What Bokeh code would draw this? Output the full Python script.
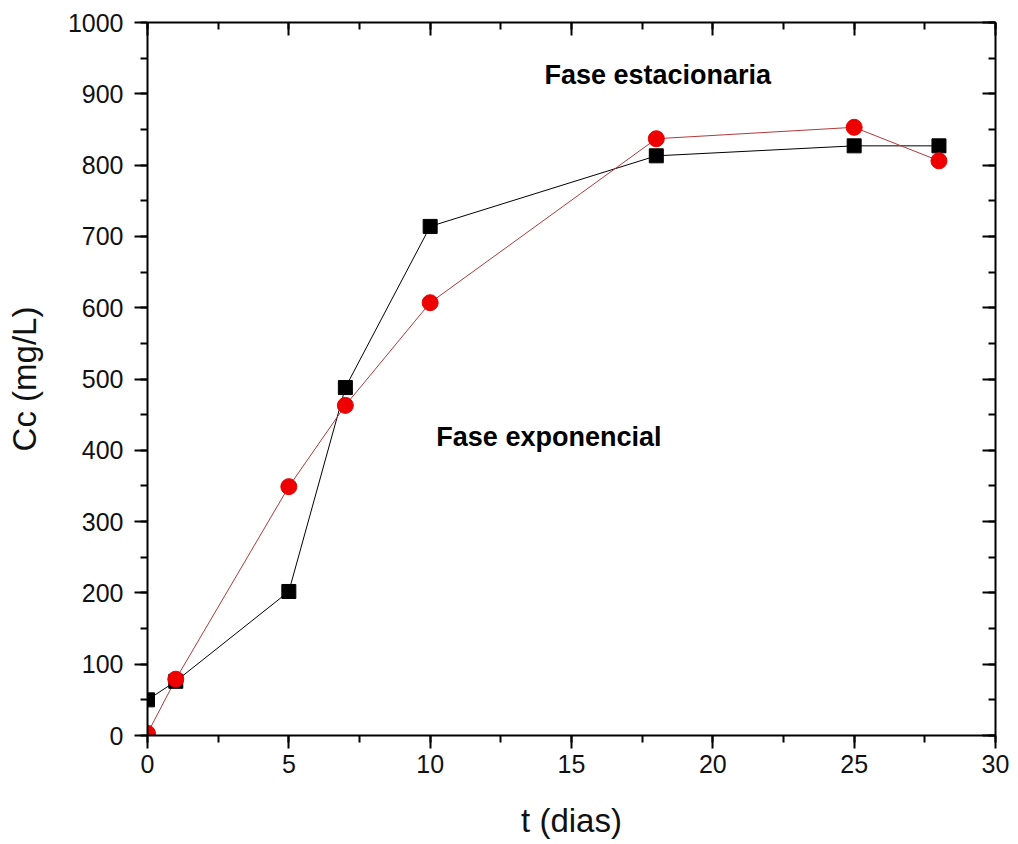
from bokeh.plotting import figure
from bokeh.models import LinearAxis, Range1d, FixedTicker, Label
from bokeh.embed import file_html
from bokeh.resources import INLINE

t_black = [0, 1, 5, 7, 10, 18, 25, 28]
cc_black = [50, 76, 202, 488, 714, 813, 827, 827]
t_red = [0, 1, 5, 7, 10, 18, 25, 28]
cc_red = [3, 79, 349, 463, 607, 837, 853, 806]
x_ticks = [0, 5, 10, 15, 20, 25, 30]
y_ticks = list(range(0, 1001, 100))

FONT = "Liberation Sans"

p = figure(width=1018, height=844, output_backend="svg", toolbar_location=None,
           x_range=Range1d(0, 30), y_range=Range1d(0, 1000),
           min_border_left=147, min_border_right=23, min_border_top=22, min_border_bottom=109,
           x_axis_label="t (dias)", y_axis_label="Cc (mg/L)")
p.grid.visible = False
p.outline_line_color = None
p.background_fill_color = "white"
p.border_fill_color = "white"

for ax in [p.xaxis[0], p.yaxis[0]]:
    ax.axis_line_width = 2
    ax.major_tick_line_width = 2
    ax.minor_tick_line_width = 2
    ax.major_tick_out = 13
    ax.major_tick_in = 0
    ax.minor_tick_out = 7
    ax.minor_tick_in = 0
    ax.major_label_text_font = FONT
    ax.major_label_text_font_size = "25px"
    ax.major_label_text_color = "#111111"
    ax.axis_label_text_font = FONT
    ax.axis_label_text_font_size = "33px"
    ax.axis_label_text_font_style = "normal"
    ax.axis_label_text_color = "#111111"
    ax.axis_line_color = "black"
    ax.major_tick_line_color = "black"
    ax.minor_tick_line_color = "black"

p.xaxis[0].ticker = FixedTicker(ticks=x_ticks, minor_ticks=[v * 2.5 for v in range(13)])
p.yaxis[0].ticker = FixedTicker(ticks=y_ticks, minor_ticks=list(range(0, 1001, 50)))
p.xaxis[0].major_label_standoff = 6
p.xaxis[0].axis_label_standoff = 26
p.yaxis[0].major_label_standoff = 11
p.yaxis[0].axis_label_standoff = 22

top = LinearAxis(ticker=FixedTicker(ticks=x_ticks, minor_ticks=[v * 2.5 for v in range(13)]))
right = LinearAxis(ticker=FixedTicker(ticks=y_ticks, minor_ticks=list(range(0, 1001, 50))))
top.major_label_overrides = {t: "" for t in x_ticks}
right.major_label_overrides = {t: "" for t in y_ticks}
for ax in [top, right]:
    ax.axis_line_width = 2
    ax.major_tick_line_width = 2
    ax.minor_tick_line_width = 2
    ax.major_tick_in = 13
    ax.major_tick_out = 0
    ax.minor_tick_in = 7
    ax.minor_tick_out = 0
    ax.major_label_standoff = 0
    ax.axis_line_color = "black"
    ax.major_tick_line_color = "black"
    ax.minor_tick_line_color = "black"
p.add_layout(top, "above")
p.add_layout(right, "right")

p.line(t_black, cc_black, line_color="black", line_width=1)
p.line(t_red, cc_red, line_color="#b03a3a", line_width=1)
p.scatter(t_black, cc_black, marker="square", size=14, fill_color="black", line_color="black")
p.scatter(t_red, cc_red, marker="circle", size=16, fill_color="#ee0000", line_color="#ee0000")

p.add_layout(Label(x=18.05, y=927, text="Fase estacionaria", text_font=FONT,
                   text_font_size="27px", text_font_style="bold", text_align="center",
                   text_baseline="middle", text_color="black"))
p.add_layout(Label(x=14.2, y=419, text="Fase exponencial", text_font=FONT,
                   text_font_size="27px", text_font_style="bold", text_align="center",
                   text_baseline="middle", text_color="black"))

open("out.html", "w").write(file_html(p, INLINE))
